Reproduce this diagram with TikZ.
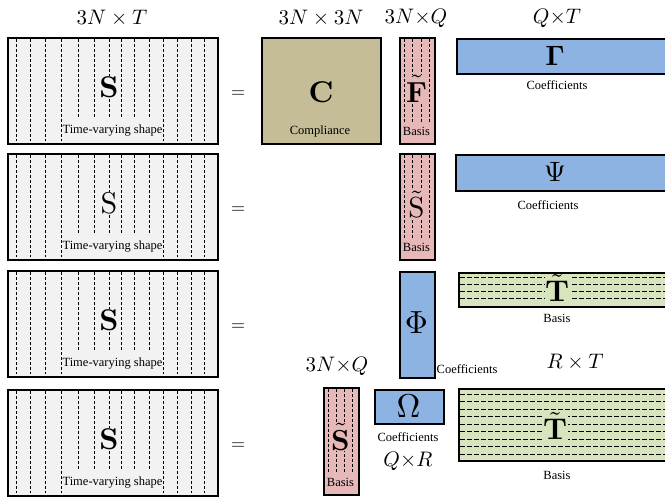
\documentclass[tikz,border=0pt]{standalone}
\usepackage[no-math]{fontspec}
\usepackage{graphicx}
\newfontfamily\lblfont{Liberation Serif}
\definecolor{sgray}{HTML}{F2F2F2}
\definecolor{ctanb}{HTML}{C4BD97}
\definecolor{cpinkb}{HTML}{E6B9B8}
\definecolor{cblueb}{HTML}{8DB3E2}
\definecolor{cgreenb}{HTML}{D7E4BD}
\newcommand{\hdrmath}[1]{\scalebox{2.1}{$#1$}}
\newcommand{\bigletter}[2][2.9]{\scalebox{#1}{$#2$}}
\tikzset{
  mbox/.style={draw=black, line width=1.6pt, inner sep=0pt, anchor=north west},
  dline/.style={line width=0.6pt, dash pattern=on 3pt off 2pt},
  hline/.style={line width=0.6pt, dash pattern=on 4.5pt off 2.5pt},
  lbl/.style={font=\lblfont\fontsize{12.5}{14}\selectfont, inner sep=0.5pt},
  mlbl/.style={inner sep=0pt},
  bigl/.style={inner sep=1pt},
  eqs/.style={inner sep=0pt},
}
\newcommand{\srowdraw}[3]{%
  \node[mbox, fill=sgray, minimum width=210pt, minimum height=106pt] (S#1) at (7,#2) {};
  \foreach \xx in {16,30,45,61,78,94,109,121,134,149,163,177,191,204}
    \draw[dline] (\xx,#2+2) -- (\xx,#2+104);
  \node[lbl, fill=sgray, inner xsep=0pt, anchor=south, minimum height=23pt] (S#1l) at (112.5,#2+105) {Time-varying shape};
  \node[bigl, fill=sgray, inner sep=0.5pt] (S#1s) at (109,#2+50) {\bigletter[3.0]{#3}};
  \node[eqs] (E#1) at (238,#2+57) {\scalebox{1.8}{$=$}};
}
\begin{document}
\begin{tikzpicture}[x=1pt,y=-1pt]
\useasboundingbox (0,0) rectangle (665,498);
\clip (0,0) rectangle (665,498);

% ---- S boxes
\srowdraw{1}{37}{\mathbf{S}}
\srowdraw{2}{153}{\mathrm{S}}
\srowdraw{3}{270}{\mathbf{S}}
\srowdraw{4}{389}{\mathbf{S}}

% ---- headers
\node[mlbl] (h1) at (112,18) {\hdrmath{3N\times T}};
\node[mlbl] (h2) at (321,18) {\hdrmath{3N\times 3N}};
\node[mlbl] (h3) at (416,18) {\hdrmath{3N{\times}Q}};
\node[mlbl] (h4) at (557,18) {\hdrmath{Q{\times}T}};

% ---- row 1
\node[mbox, fill=ctanb, minimum width=119pt, minimum height=106pt] (C) at (261,37) {};
\node[bigl] (Cl) at (321,92) {\bigletter[3.0]{\mathbf{C}}};
\node[lbl] (Cc) at (320,131) {Compliance};

\node[mbox, fill=cpinkb, minimum width=35pt, minimum height=106pt] (F) at (399,37) {};
\foreach \xx in {404,412.5,421,429} \draw[dline] (\xx,39) -- (\xx,141);
\node[lbl, fill=cpinkb, anchor=south, minimum height=20pt, inner xsep=0pt] (Fb) at (416.5,142) {Basis};
\node[bigl, fill=cpinkb, inner sep=0.5pt] (Fl) at (416.5,89) {\bigletter[2.9]{\tilde{\mathbf{F}}}};

\node[mbox, fill=cblueb, minimum width=216pt, minimum height=35pt] (G) at (456,38) {};
\node[bigl, fill=cblueb] (Gl) at (555,55.5) {\bigletter[2.8]{\mathbf{\Gamma}}};
\node[lbl] (Gc) at (557,85) {Coefficients};

% ---- row 2
\node[mbox, fill=cpinkb, minimum width=35pt, minimum height=106pt] (St2) at (399,153) {};
\foreach \xx in {404,412.5,421,429} \draw[dline] (\xx,155) -- (\xx,257);
\node[lbl, fill=cpinkb, anchor=south, minimum height=20pt, inner xsep=0pt] (St2b) at (416.5,258) {Basis};
\node[bigl, fill=cpinkb, inner sep=0.5pt] (St2l) at (416.5,204) {\bigletter[2.9]{\tilde{\mathrm{S}}}};

\node[mbox, fill=cblueb, minimum width=217pt, minimum height=36pt] (P) at (455,154) {};
\node[bigl, fill=cblueb] (Pl) at (555,172) {\bigletter[2.8]{\Psi}};
\node[lbl] (Pc) at (548,205) {Coefficients};

% ---- row 3
\node[mbox, fill=cblueb, minimum width=35pt, minimum height=106pt] (Ph) at (399,271) {};
\node[bigl] (Phl) at (416.5,323) {\bigletter[3.2]{\Phi}};
\node[lbl, anchor=west] (Phc) at (436,369) {Coefficients};

\node[mbox, fill=cgreenb, minimum width=214pt, minimum height=34pt] (T3) at (458,272) {};
\foreach \yy in {277,284,291,298} \draw[hline] (460,\yy) -- (672,\yy);
\node[bigl, fill=cgreenb, inner sep=0.5pt] (T3l) at (557,288) {\bigletter[3.0]{\tilde{\mathbf{T}}}};
\node[lbl] (T3b) at (557,318) {Basis};
\node[mlbl] (h5) at (575,362) {\hdrmath{R\times T}};

% ---- row 4
\node[mlbl] (h6) at (337,366) {\hdrmath{3N{\times}Q}};
\node[mbox, fill=cpinkb, minimum width=35pt, minimum height=107pt] (St4) at (323,387) {};
\foreach \xx in {328,336,344,352} \draw[dline] (\xx,389) -- (\xx,492);
\node[lbl, fill=cpinkb, anchor=south, minimum height=20pt, inner xsep=0pt] (St4b) at (340.5,493) {Basis};
\node[bigl, fill=cpinkb, inner sep=0.5pt] (St4l) at (340.5,437) {\bigletter[2.9]{\tilde{\mathbf{S}}}};

\node[mbox, fill=cblueb, minimum width=69pt, minimum height=34pt] (O) at (374,389) {};
\node[bigl] (Ol) at (408.5,406) {\bigletter[3.3]{\Omega}};
\node[lbl] (Oc) at (408,437) {Coefficients};
\node[mlbl] (h7) at (408,461) {\hdrmath{Q{\times}R}};

\node[mbox, fill=cgreenb, minimum width=214pt, minimum height=72pt] (T4) at (458,388) {};
\foreach \yy in {394,401.5,409,416.5,424,431.5,439,446.5,454} \draw[hline] (460,\yy) -- (672,\yy);
\node[bigl, fill=cgreenb, inner sep=0.5pt] (T4l) at (555,426) {\bigletter[3.0]{\tilde{\mathbf{T}}}};
\node[lbl] (T4b) at (557,475) {Basis};
\end{tikzpicture}
\end{document}
